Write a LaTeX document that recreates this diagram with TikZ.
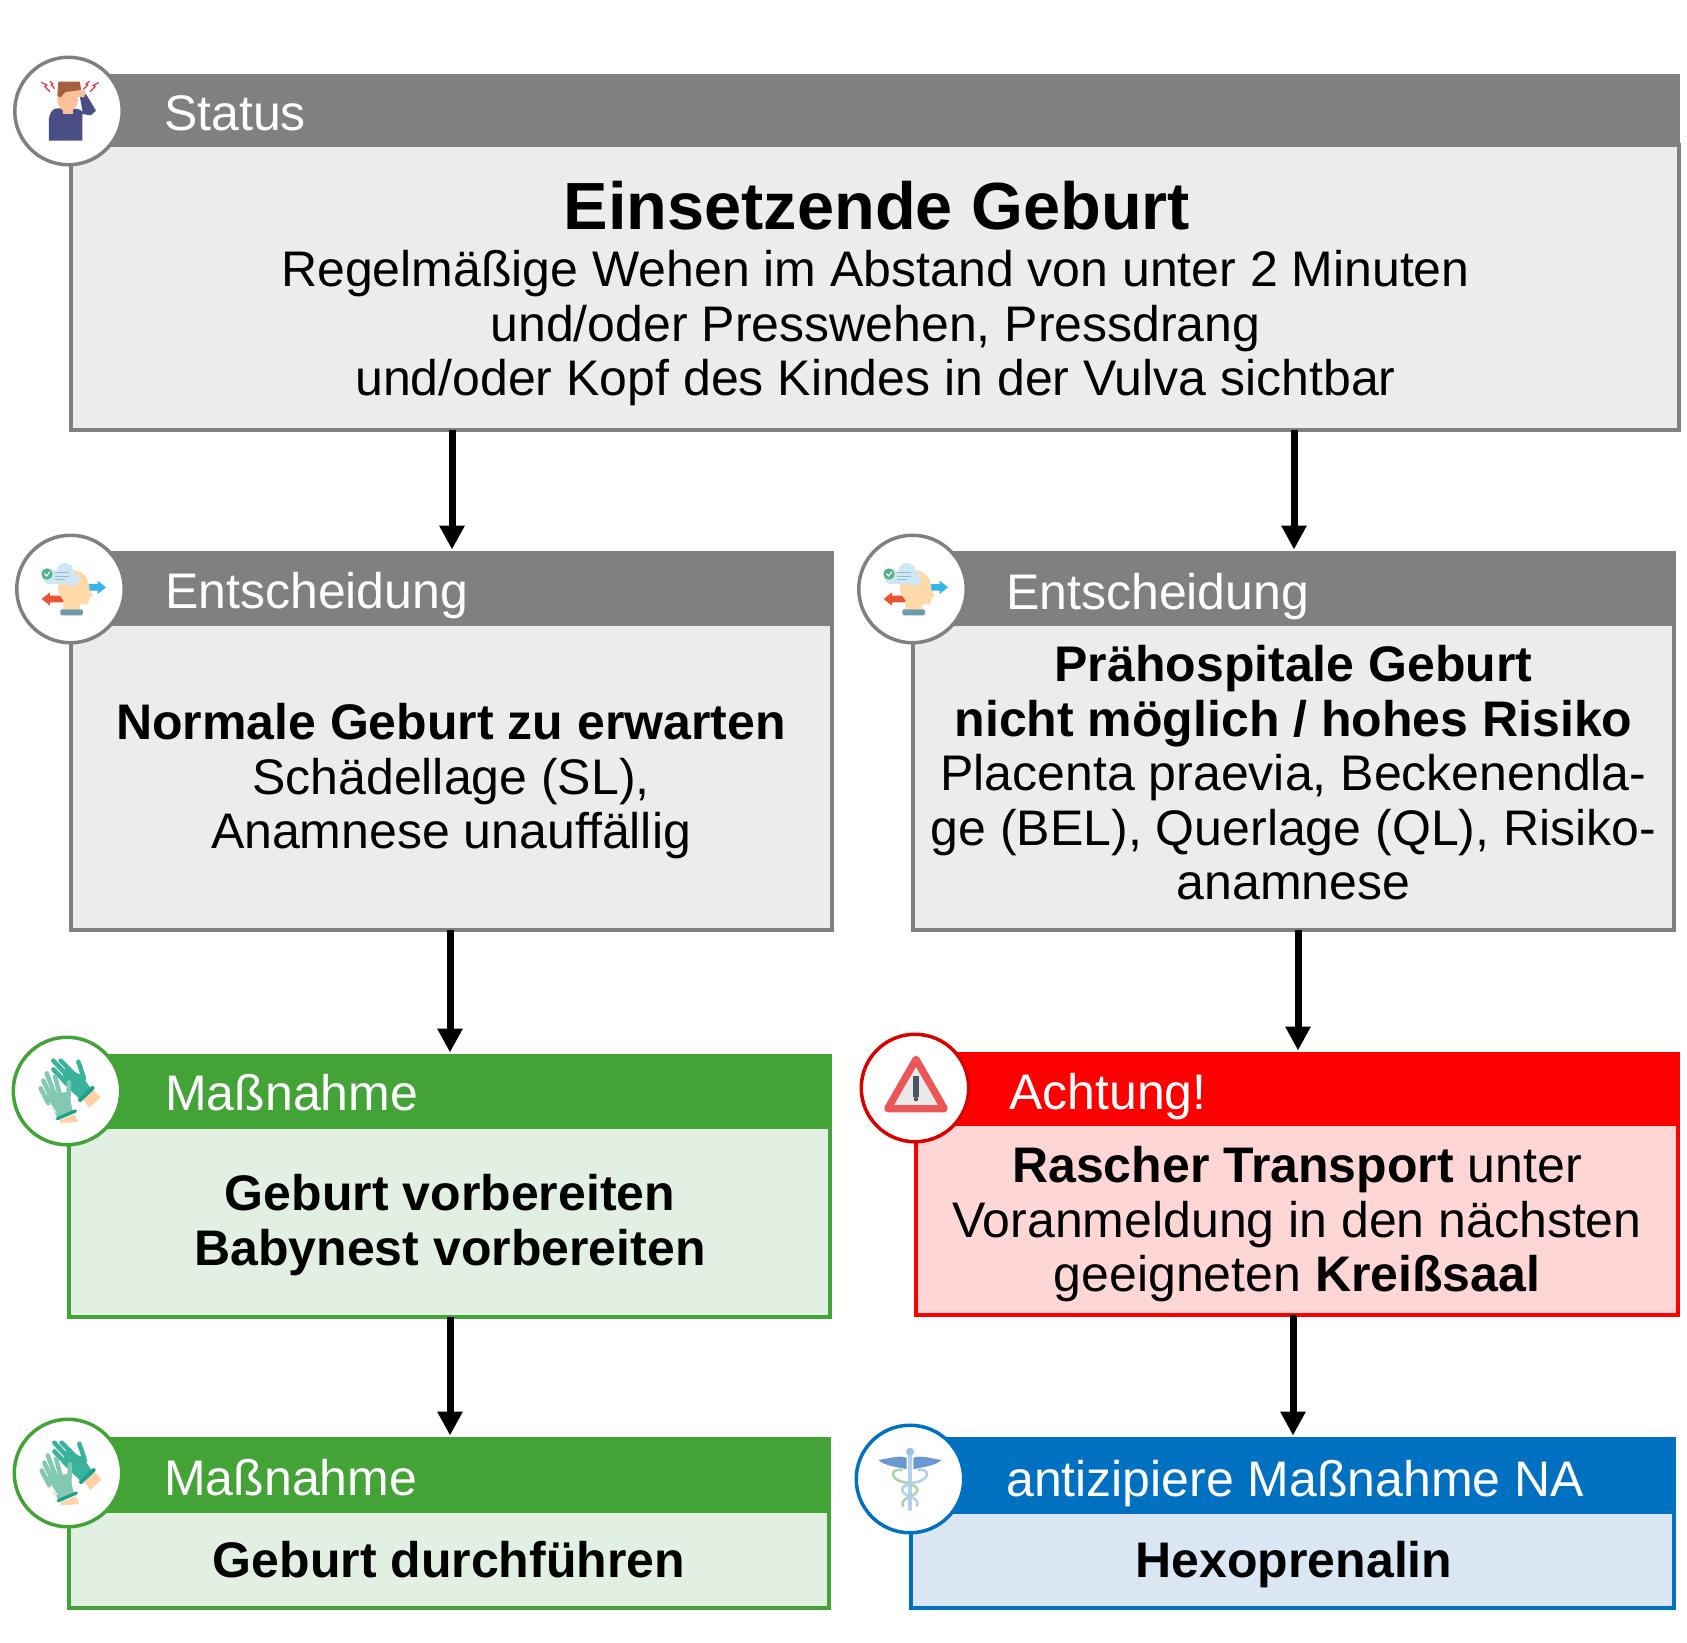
\documentclass[tikz,border=0pt]{standalone}
\usepackage{fontspec}
\setmainfont{Liberation Sans}
\usetikzlibrary{arrows.meta}
\definecolor{hgray}{HTML}{808080}\definecolor{bgray}{HTML}{ECECEC}
\definecolor{hgreen}{HTML}{43A336}\definecolor{bgreen}{HTML}{E2F0E3}
\definecolor{hred}{HTML}{FF0000}\definecolor{bred}{HTML}{FFD6D6}
\definecolor{hblue}{HTML}{0070C0}\definecolor{bblue}{HTML}{DAE7F3}
\definecolor{navyc}{HTML}{4A4E87}\definecolor{skinc}{HTML}{FBC09A}\definecolor{hairc}{HTML}{A5603F}\definecolor{boltc}{HTML}{E8304E}
\definecolor{cloudc}{HTML}{CFE6F5}\definecolor{headc}{HTML}{FFD9A8}\definecolor{baseh}{HTML}{6F9AAB}\definecolor{chkc}{HTML}{4DB380}
\definecolor{arrb}{HTML}{35B5E8}\definecolor{arrr}{HTML}{EA5430}\definecolor{lineb}{HTML}{8FBCD0}
\definecolor{gdark}{HTML}{38B29B}\definecolor{glight}{HTML}{83C8B0}\definecolor{gcuff}{HTML}{1FA08A}\definecolor{gskin}{HTML}{FFD3A6}
\definecolor{wred}{HTML}{EB5757}\definecolor{wfill}{HTML}{E9E9E9}\definecolor{wmark}{HTML}{4B5563}
\definecolor{wingc}{HTML}{6B97D3}\definecolor{staffc}{HTML}{B5CFEF}\definecolor{snakeg}{HTML}{A8D5A8}
\tikzset{
  hdr/.style={rectangle,fill=#1,draw=none,inner sep=0,outer sep=0,anchor=north west},
  bdy/.style 2 args={rectangle,fill=#2,draw=#1,line width=4pt,inner sep=0,outer sep=0,anchor=north west},
  hlabel/.style={anchor=base west,inner sep=0,text=white,font=\fontsize{50}{54.5}\selectfont},
  btext/.style={anchor=center,inner sep=0,align=center,text=black,font=\fontsize{50}{54.5}\selectfont},
  badge/.style={circle,fill=white,draw=#1,line width=3.5pt,minimum size=107.5,inner sep=0},
  flow/.style={line width=7pt,-{Triangle[width=24pt,length=24pt]},shorten >=1.5pt},
}
\newcommand{\iconperson}[1]{\begin{scope}[shift={(#1)},x=0.3333pt,y=-0.3333pt]
 \fill[navyc] (147,302) -- (147,235) .. controls (150,215) and (160,205) .. (172,205) -- (235,207) -- (248,215) -- (240,172) -- (258,162) -- (288,212) -- (272,226) -- (247,222) -- (247,302) -- cycle;
 \fill[skinc] (188,200) rectangle (220,222);
 \fill[skinc] (203,178) ellipse[x radius=31,y radius=38];
 \fill[skinc] (225,150) -- (258,152) -- (252,172) -- (225,170) -- cycle;
 \fill[hairc] (172,168) -- (175,125) -- (240,125) -- (243,150) -- (196,156) -- (182,172) -- cycle;
 \draw[boltc,line width=1.2pt] (124,127) -- (140,135) -- (135,140) -- (150,155);
 \draw[boltc,line width=1.2pt] (150,124) -- (158,132) -- (154,135) -- (164,146);
 \draw[boltc,line width=1.2pt] (268,124) -- (258,132) -- (263,135) -- (250,148);
 \draw[boltc,line width=1.2pt] (296,128) -- (280,136) -- (285,140) -- (270,155);
\end{scope}}
\newcommand{\iconhead}[1]{\begin{scope}[shift={(#1)},x=0.3333pt,y=-0.3333pt]
 \fill[arrr] (125,237) -- (150,217) -- (150,227) -- (195,227) -- (195,247) -- (150,247) -- (150,257) -- cycle;
 \fill[arrb] (318,202) -- (293,182) -- (293,192) -- (265,192) -- (265,212) -- (293,212) -- (293,222) -- cycle;
 \fill[headc] (190,268) -- (190,240) .. controls (165,215) and (165,170) .. (215,150) .. controls (255,150) and (270,185) .. (268,210) -- (280,228) -- (268,234) -- (265,252) -- (240,254) -- (240,268) -- cycle;
 \fill[baseh,rounded corners=1.5pt] (181,268) rectangle (249,286);
 \fill[cloudc] (150,175) rectangle (225,193);
 \fill[cloudc] (150,170) circle[radius=23];
 \fill[cloudc] (195,155) circle[radius=26];
 \fill[cloudc] (218,178) circle[radius=20];
 \draw[lineb,line width=1pt] (165,157) -- (208,157) (165,168) -- (208,168) (165,179) -- (195,179);
 \fill[chkc] (141,162) circle[radius=17];
 \draw[white,line width=1.2pt] (133,161) -- (140,168) -- (150,155);
\end{scope}}
\newcommand{\icongloves}[1]{\begin{scope}[shift={(#1)},x=0.3333pt,y=-0.3333pt,line cap=round]
 \fill[gskin,rounded corners=1pt] (250,240) -- (280,210) -- (302,232) -- (268,264) -- cycle;
 \draw[gdark,line width=4.5pt] (160,122) -- (205,170) (182,122) -- (225,165) (160,148) -- (200,190) (235,125) -- (252,175);
 \fill[gdark] (195,145) -- (245,165) -- (272,205) -- (240,238) -- (185,185) -- cycle;
 \draw[gcuff,line width=4pt] (240,240) -- (278,204);
 \fill[gskin] (180,300) -- (225,283) -- (235,306) -- (180,310) -- cycle;
 \draw[glight,line width=4.5pt] (122,205) -- (145,250) (130,182) -- (155,235) (140,160) -- (165,225) (165,170) -- (180,225) (207,187) -- (205,240);
 \fill[glight] (135,225) -- (205,215) -- (218,272) -- (172,293) -- cycle;
 \draw[white,line width=1pt] (150,250) -- (168,278);
 \draw[gcuff,line width=3.3pt] (172,296) -- (226,273);
\end{scope}}
\newcommand{\iconwarn}[1]{\begin{scope}[shift={(#1)},x=0.3333pt,y=-0.3333pt]
 \draw[wred,fill=wfill,line width=7.3pt,line join=round] (228,118) -- (143,266) -- (313,266) -- cycle;
 \fill[wmark] (220,167) rectangle (236,230);
 \fill[wmark] (228,237) circle[radius=7];
\end{scope}}
\newcommand{\iconstaff}[1]{\begin{scope}[shift={(#1)},x=0.3333pt,y=-0.3333pt,line cap=round]
 \draw[staffc,line width=3.5pt] (210,125) -- (210,298);
 \fill[staffc!85!hblue] (210,125) circle[radius=12];
 \draw[snakeg,line width=2.5pt] (185,180) .. controls (150,175) and (150,205) .. (185,215) .. controls (240,225) and (245,245) .. (210,260) .. controls (185,270) and (185,280) .. (190,288);
 \draw[staffc,line width=2.5pt] (235,180) .. controls (270,175) and (270,205) .. (235,215) .. controls (175,225) and (175,245) .. (210,260) .. controls (235,270) and (235,280) .. (230,288);
 \fill[wingc] (115,150) .. controls (150,145) and (175,135) .. (200,143) -- (200,178) .. controls (170,170) and (135,168) .. cycle;
 \fill[wingc] (305,150) .. controls (270,145) and (245,135) .. (220,143) -- (220,178) .. controls (250,170) and (285,168) .. cycle;
\end{scope}}
\begin{document}
\begin{tikzpicture}[x=1pt,y=-1pt]
\useasboundingbox[fill=white] (0,0) rectangle (1687,1642);
% boxes
\node[bdy={hgray}{bgray},minimum width=1608,minimum height=285] (b1) at (71,145) {};
\node[hdr=hgray,minimum width=1611,minimum height=73] (h1) at (69,74) {};
\node[bdy={hgray}{bgray},minimum width=761,minimum height=306] (b2) at (71,624) {};
\node[hdr=hgray,minimum width=765,minimum height=75] (h2) at (69,551) {};
\node[bdy={hgray}{bgray},minimum width=761,minimum height=306] (b3) at (913,624) {};
\node[hdr=hgray,minimum width=765,minimum height=75] (h3) at (911,551) {};
\node[bdy={hgreen}{bgreen},minimum width=761,minimum height=190] (b4) at (69,1127) {};
\node[hdr=hgreen,minimum width=765,minimum height=75] (h4) at (67,1054) {};
\node[bdy={hred}{bred},minimum width=762,minimum height=191] (b5) at (916,1124) {};
\node[hdr=hred,minimum width=766,minimum height=74] (h5) at (914,1052) {};
\node[bdy={hgreen}{bgreen},minimum width=760,minimum height=97] (b6) at (69,1511) {};
\node[hdr=hgreen,minimum width=764,minimum height=76] (h6) at (67,1437) {};
\node[bdy={hblue}{bblue},minimum width=763,minimum height=96] (b7) at (911,1512) {};
\node[hdr=hblue,minimum width=767,minimum height=77] (h7) at (909,1437) {};
% header labels
\node[hlabel] (l1) at (164,130) {Status};
\node[hlabel] (l2) at (165,608) {Entscheidung};
\node[hlabel] (l3) at (1006,609) {Entscheidung};
\node[hlabel] (l4) at (165,1110) {Maßnahme};
\node[hlabel] (l5) at (1009,1109) {Achtung!};
\node[hlabel] (l6) at (164,1495) {Maßnahme};
\node[hlabel] (l7) at (1006,1496) {antizipiere Maßnahme NA};
% body texts
\node[btext,font=\fontsize{66.7}{70}\selectfont\bfseries] (t1a) at (877,206) {Einsetzende Geburt};
\node[btext] (t1) at (875.5,328.5) {Regelmäßige Wehen im Abstand von unter 2 Minuten\\und/oder Presswehen, Pressdrang\\und/oder Kopf des Kindes in der Vulva sichtbar};
\node[btext] (t2) at (451,781.5) {\textbf{Normale Geburt zu erwarten}\\Schädellage (SL),\\Anamnese unauffällig};
\node[btext] (t3) at (1293.5,773) {\textbf{Prähospitale Geburt}\\\textbf{nicht möglich / hohes Risiko}\\Placenta praevia, Beckenendla-\\ge (BEL), Querlage (QL), Risiko-\\anamnese};
\node[btext] (t4) at (450,1225) {\textbf{Geburt vorbereiten}\\\textbf{Babynest vorbereiten}};
\node[btext] (t5) at (1297,1224.5) {\textbf{Rascher Transport} unter\\Voranmeldung in den nächsten\\geeigneten \textbf{Kreißsaal}};
\node[btext] (t6) at (449,1560) {\textbf{Geburt durchführen}};
\node[btext] (t7) at (1294,1565) {\textbf{Hexoprenalin}};
% badges
\node[badge=hgray] (c1) at (68.5,111) {};
\node[badge=hgray] (c2) at (70.5,589) {};
\node[badge=hgray] (c3) at (912.5,589) {};
\node[badge=hgreen] (c4) at (67,1091) {};
\node[badge=hred!85!black] (c5) at (915,1088) {};
\node[badge=hgreen] (c6) at (68,1473) {};
\node[badge=hblue] (c7) at (910,1479) {};
\iconperson{0,40}
\iconhead{0,520}
\iconhead{842,520}
\icongloves{0,1020}
\icongloves{1,1402}
\iconwarn{840,1020}
\iconstaff{840,1410}
% connectors
\coordinate (x1) at (452,0);\coordinate (x2) at (1294,0);
\coordinate (x3) at (450,0);\coordinate (x4) at (1298,0);
\coordinate (x5) at (1293,0);
\draw[flow] (b1.south -| x1) -- (h2.north -| x1);
\draw[flow] (b1.south -| x2) -- (h3.north -| x2);
\draw[flow] (b2.south -| x3) -- (h4.north -| x3);
\draw[flow] (b3.south -| x4) -- (h5.north -| x4);
\draw[flow] (b4.south -| x3) -- (h6.north -| x3);
\draw[flow] (b5.south -| x5) -- (h7.north -| x5);
\end{tikzpicture}
\end{document}
